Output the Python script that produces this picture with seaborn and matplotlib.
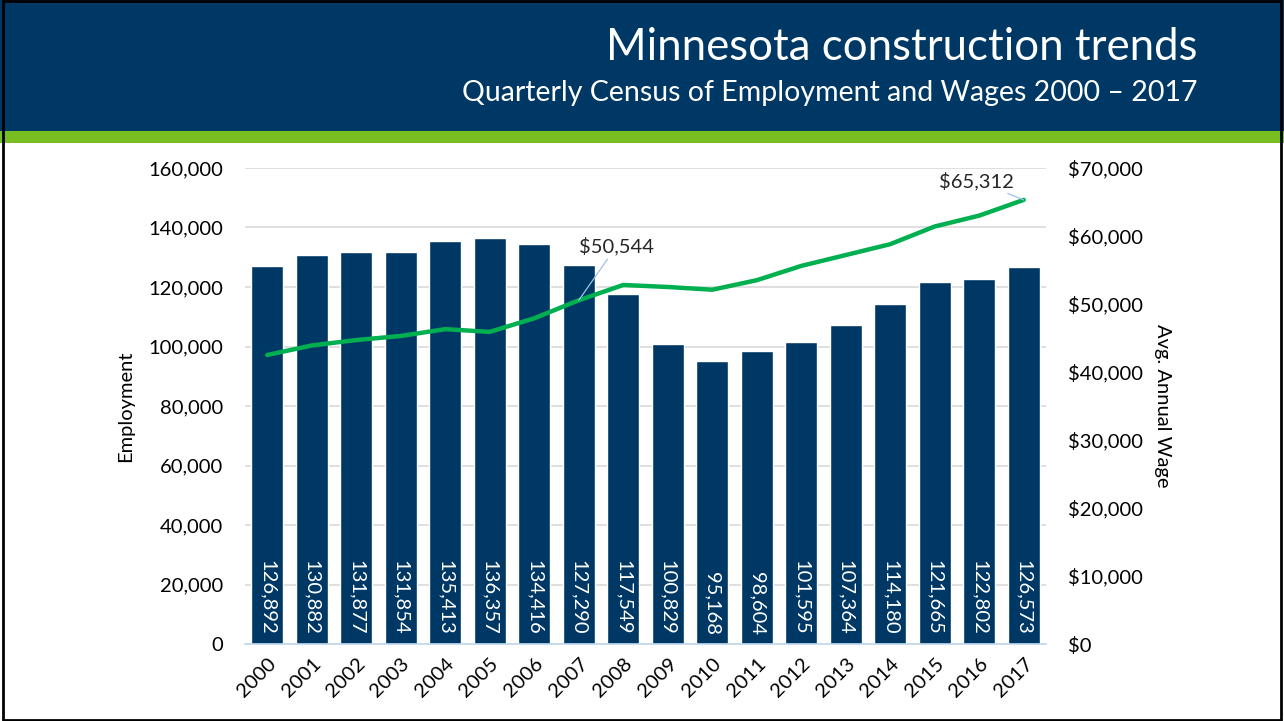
import matplotlib
matplotlib.use("Agg")
import matplotlib.pyplot as plt
import matplotlib.patches as mpatches
from matplotlib.ticker import FuncFormatter, MultipleLocator
import seaborn as sns
import pandas as pd

years = [str(y) for y in range(2000, 2018)]
employment = [126892, 130882, 131877, 131854, 135413, 136357, 134416, 127290, 117549,
              100829, 95168, 98604, 101595, 107364, 114180, 121665, 122802, 126573]
avg_wage = [42500, 43900, 44700, 45300, 46300, 45900, 47900, 50544, 52800,
            52500, 52100, 53500, 55600, 57200, 58800, 61400, 63000, 65312]
title = "Minnesota construction trends"
subtitle = "Quarterly Census of Employment and Wages 2000 \u2013 2017"

NAVY = "#003865"
GREEN_LINE = "#00B050"
GREEN_BAR = "#78BE20"
FONT = ["Lato", "DejaVu Sans"]

sns.set_theme(style="white")
plt.rcParams["font.family"] = FONT

df = pd.DataFrame({"year": years, "employment": employment, "wage": avg_wage})

W, H = 1284, 721
fig = plt.figure(figsize=(W / 100, H / 100), dpi=100)
fig.patch.set_facecolor("white")

# header bands
fig.patches.append(mpatches.Rectangle((0, (H - 131) / H), 1, 131 / H, transform=fig.transFigure,
                                      facecolor=NAVY, edgecolor="none", zorder=0))
fig.patches.append(mpatches.Rectangle((0, (H - 143) / H), 1, 12 / H, transform=fig.transFigure,
                                      facecolor=GREEN_BAR, edgecolor="none", zorder=0))
fig.patches.append(mpatches.Rectangle((0.002, 0.002), 0.996, 0.996, transform=fig.transFigure,
                                      facecolor="none", edgecolor="black", linewidth=2, zorder=5))
fig.text(1197 / W, 1 - 48 / H, title, ha="right", va="center", color="white",
         fontsize=31.5, fontweight="normal", family=FONT)
fig.text(1197 / W, 1 - 93 / H, subtitle, ha="right", va="center", color="white",
         fontsize=20.5, fontweight="normal", family=FONT)

ax = fig.add_axes([245 / W, (H - 644) / H, 801 / W, 476 / H])
sns.barplot(data=df, x="year", y="employment", color=NAVY, saturation=1, width=0.71, ax=ax, zorder=2)
ax.set_ylim(0, 160000)
ax.yaxis.set_major_locator(MultipleLocator(20000))
ax.yaxis.set_major_formatter(FuncFormatter(lambda v, p: f"{int(v):,}"))
ax.grid(axis="y", color="#D9D9D9", linewidth=1.2, zorder=0)
ax.set_axisbelow(True)
for s in ["top", "right", "left"]:
    ax.spines[s].set_visible(False)
ax.spines["bottom"].set_color("#BDD7EE")
ax.spines["bottom"].set_linewidth(1.2)
ax.tick_params(axis="y", length=0, pad=16, labelsize=14.5, colors="black")
ax.tick_params(axis="x", length=0, pad=8, labelsize=14.5, colors="black")
for lbl in ax.get_xticklabels():
    lbl.set_rotation(45)
    lbl.set_ha("right")
    lbl.set_rotation_mode("anchor")
ax.set_xlabel("")
ax.set_ylabel("Employment", fontsize=14.5, labelpad=10, color="black")

for bar, val in zip(ax.patches, employment):
    ax.annotate(f"{val:,}", xy=(bar.get_x() + bar.get_width() / 2, 0), xytext=(0, 6.5),
                textcoords="offset points", rotation=270, ha="center", va="bottom",
                color="white", fontsize=14.5)

ax2 = ax.twinx()
sns.pointplot(data=df, x="year", y="wage", color=GREEN_LINE, markers="", linewidth=3.2,
              errorbar=None, ax=ax2)
ax2.set_ylim(0, 70000)
ax2.yaxis.set_major_locator(MultipleLocator(10000))
ax2.yaxis.set_major_formatter(FuncFormatter(lambda v, p: f"${int(v):,}"))
for s in ax2.spines.values():
    s.set_visible(False)
ax2.tick_params(axis="y", length=0, pad=16, labelsize=14.5, colors="black")
ax2.set_ylabel("Avg. Annual Wage", fontsize=14.5, rotation=270, labelpad=8, color="black", va="bottom")
ax2.grid(False)
ax2.set_xlabel("")

arrow = dict(arrowstyle="-", color="#9DC3E6", linewidth=0.9, shrinkA=0, shrinkB=0)
i07 = years.index("2007")
ax2.annotate(f"${avg_wage[i07]:,}", xy=(i07, avg_wage[i07]), xytext=(27, 32),
             textcoords="offset points", ha="center", va="bottom", fontsize=14.5,
             arrowprops=arrow)
i17 = len(years) - 1
ax2.annotate(f"${avg_wage[i17]:,}", xy=(i17, avg_wage[i17]), xytext=(-34, 7),
             textcoords="offset points", ha="center", va="bottom", fontsize=14.5,
             arrowprops=arrow)

fig.savefig("out.png", dpi=100)
